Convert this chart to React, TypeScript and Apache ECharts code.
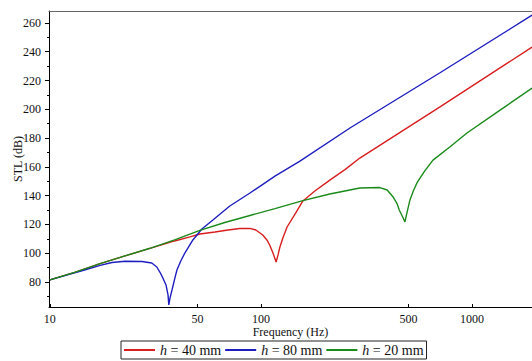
import React, { useEffect, useRef } from 'react';
import * as echarts from 'echarts';

// h = 40 mm (red)
const freqH40 = [10, 13.1, 17.3, 22.7, 29.8, 39, 46.1, 51.4, 60.5, 69.8, 79.4, 88.7, 94.6, 102, 106.7, 110, 114, 118, 120.5, 123, 127, 133, 145, 158, 180, 212, 250, 294, 705, 1924];
const stlH40 = [81.4, 86.7, 92.7, 98.1, 103.3, 108.5, 111.3, 113.3, 114.7, 116.1, 117.2, 117.2, 116.1, 112.6, 109.2, 105.7, 100.1, 93.9, 98.8, 104.3, 110.6, 118.2, 127.2, 136.3, 143.2, 150.8, 158.1, 166.1, 201.7, 243.2];

// h = 80 mm (blue)
const freqH80 = [10, 13.1, 14.6, 17.3, 19.7, 22.7, 27.3, 30.4, 32.1, 33.2, 34.3, 35.5, 36.3, 36.6, 37.1, 37.9, 39, 40, 41.7, 43.6, 47.6, 52.5, 59.2, 71.2, 88.7, 116.5, 153, 264, 705, 1924];
const stlH80 = [81.4, 86.3, 88.3, 91.5, 93.5, 94.4, 94.2, 93.2, 90.4, 86.9, 82.8, 77.9, 71, 64, 68.9, 74.4, 82, 88.3, 94.6, 100.1, 109.2, 116.8, 123.1, 132.8, 141.8, 153.6, 164, 187, 225.4, 265.4];

// h = 20 mm (green)
const freqH20 = [10, 13.1, 17.3, 22.7, 29.8, 39, 51.4, 67.4, 88.7, 116.5, 158, 212, 294, 366, 396, 423, 442, 452, 470, 481, 490, 508, 527, 548, 596, 653, 787, 946, 1358, 1924];
const stlH20 = [81.4, 86.7, 92.7, 98.1, 103.4, 109.2, 115.8, 121.3, 126.2, 131, 136.5, 141.1, 145.3, 145.6, 143.9, 139, 134.2, 130, 125, 121.7, 127.2, 137, 143.2, 148.8, 157, 164.7, 174, 183.5, 199.4, 214.7];

const seriesNames = ['h = 40 mm', 'h = 80 mm', 'h = 20 mm'];
const xTickLabels = [10, 50, 100, 500, 1000];
const yTickLabels = [80, 100, 120, 140, 160, 180, 200, 220, 240, 260];
const yMinorTicks = [70, 90, 110, 130, 150, 170, 190, 210, 230, 250];

const FONT = '"Liberation Serif", "DejaVu Serif", serif';

export default function App() {
  const ref = useRef<HTMLDivElement>(null);
  useEffect(() => {
    const chart = echarts.init(ref.current!, null, { renderer: 'svg' });
    const pts = (f: number[], v: number[]) => f.map((x, i) => [Math.log10(x), v[i]]);
    const xCustom = xTickLabels.map((v) => Math.log10(v));
    const mkSeries = (name: string, f: number[], v: number[], color: string) => ({
      name,
      type: 'line',
      data: pts(f, v),
      symbol: 'none',
      showSymbol: false,
      smooth: false,
      lineStyle: { color, width: 1.4 },
      itemStyle: { color },
    });
    chart.setOption({
      animation: false,
      backgroundColor: '#fff',
      grid: { left: 49, right: 0, top: 11, bottom: 54, containLabel: false, outerBoundsMode: 'none' },
      legend: {
        left: 121,
        top: 341,
        orient: 'horizontal',
        padding: [2, 3, 2, 3],
        borderColor: '#222',
        borderWidth: 1,
        itemGap: 4,
        itemWidth: 31,
        itemHeight: 2,
        icon: 'rect',
        data: seriesNames,
        formatter: (name: string) => '{i|h}{t|' + name.slice(1) + '}',
        textStyle: {
          fontFamily: FONT,
          fontSize: 14,
          color: '#111',
          rich: {
            i: { fontFamily: FONT, fontSize: 14, fontStyle: 'italic', color: '#111' },
            t: { fontFamily: FONT, fontSize: 14, color: '#111' },
          },
        },
      },
      xAxis: [
        {
          type: 'value',
          min: 0.996,
          max: 3.284,
          name: 'Frequency (Hz)',
          nameLocation: 'middle',
          nameGap: 25,
          nameMoveOverlap: false,
          nameTextStyle: { fontFamily: FONT, fontSize: 12, color: '#111', verticalAlign: 'middle' },
          axisLine: { lineStyle: { color: '#000', width: 1 } },
          axisTick: { show: true, inside: true, length: 3, customValues: xCustom, lineStyle: { color: '#000' } },
          axisLabel: {
            customValues: xCustom,
            formatter: (v: number) => String(Math.round(Math.pow(10, v))),
            fontFamily: FONT,
            fontSize: 12,
            color: '#111',
            margin: 6,
            align: 'center',
            alignMinLabel: 'center',
          },
          splitLine: { show: false },
        },
        {
          type: 'value',
          position: 'top',
          min: 0.996,
          max: 3.284,
          axisLine: { show: true, lineStyle: { color: '#666', width: 1 } },
          axisTick: { show: false },
          axisLabel: { show: false },
          splitLine: { show: false },
        },
      ],
      yAxis: [
        {
          type: 'value',
          min: 62.6,
          max: 268.3,
          name: 'STL (dB)',
          nameLocation: 'middle',
          nameGap: 31,
          nameRotate: 90,
          nameMoveOverlap: false,
          nameTextStyle: { fontFamily: FONT, fontSize: 12, color: '#111', verticalAlign: 'middle' },
          axisLine: { show: true, lineStyle: { color: '#000', width: 1 } },
          axisTick: { show: true, length: 4, customValues: yTickLabels, lineStyle: { color: '#000' } },
          axisLabel: { customValues: yTickLabels, fontFamily: FONT, fontSize: 12, color: '#111', margin: 8 },
          splitLine: { show: false },
        },
        {
          type: 'value',
          min: 62.6,
          max: 268.3,
          position: 'left',
          axisLine: { show: false },
          axisTick: { show: true, length: 2, customValues: yMinorTicks, lineStyle: { color: '#000' } },
          axisLabel: { show: false },
          splitLine: { show: false },
        },
      ],
      series: [
        mkSeries(seriesNames[0], freqH40, stlH40, '#d81e1e'),
        mkSeries(seriesNames[1], freqH80, stlH80, '#1e1ec0'),
        mkSeries(seriesNames[2], freqH20, stlH20, '#1a8a1a'),
      ],
    });
    return () => chart.dispose();
  }, []);
  return <div ref={ref} style={{ position: 'fixed', left: 0, top: 0, width: 532, height: 361 }} />;
}
